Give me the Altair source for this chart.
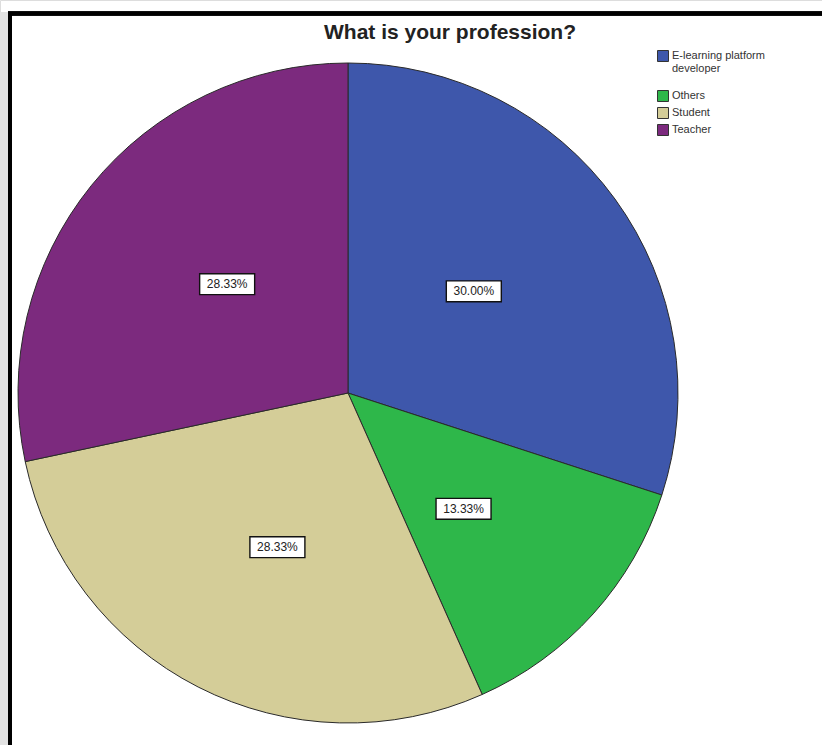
import altair as alt
import pandas as pd

categories = ["E-learning platform developer", "Others", "Student", "Teacher"]
percents = [30.00, 13.33, 28.33, 28.33]
colors = ["#3E57AB", "#2EB74A", "#D4CD98", "#7C2A7E"]

df = pd.DataFrame({
    "category": categories,
    "value": percents,
    "order": list(range(len(categories))),
})

W, H = 822, 745
CX, CY = 348, 393
R = 330

base = alt.Chart(df)

pie = base.mark_arc(outerRadius=R, stroke="#2a2a2a", strokeWidth=1).encode(
    theta=alt.Theta("value:Q", stack=True),
    color=alt.Color(
        "category:N",
        scale=alt.Scale(domain=categories, range=colors),
        sort=categories,
        legend=alt.Legend(
            title=None,
            orient="none",
            legendX=657,
            legendY=50,
            symbolType="square",
            symbolSize=121,
            symbolStrokeColor="#333333",
            symbolStrokeWidth=1,
            labelFont="Liberation Sans",
            labelFontSize=11,
            labelColor="#333333",
            labelLimit=200,
            labelOffset=3,
            rowPadding=1,
            labelExpr="datum.label == 'E-learning platform developer' ? ['E-learning platform', 'developer', ''] : datum.label",
        ),
    ),
    order=alt.Order("order:Q"),
    x=alt.value(CX),
    y=alt.value(CY),
)

lab = base.transform_window(
    cum="sum(value)", sort=[alt.SortField("order")], frame=[None, 0]
).transform_joinaggregate(
    total="sum(value)"
).transform_calculate(
    mid="(datum.cum - datum.value / 2) / datum.total * 2 * PI",
    lx="sin(datum.mid) * 0.5",
    ly="cos(datum.mid) * 0.5",
    label="format(datum.value, '.2f') + '%'",
)

xs = alt.Scale(domain=[-1, 1], range=[CX - 311, CX + 311])
ys = alt.Scale(domain=[-1, 1], range=[CY + 346, CY - 346])

boxes = lab.mark_point(
    shape="M-1,-0.38H1V0.38H-1Z",
    size=3025,
    filled=True,
    fill="white",
    stroke="#111111",
    strokeWidth=1.4,
    opacity=1,
).encode(
    x=alt.X("lx:Q", scale=xs, axis=None),
    y=alt.Y("ly:Q", scale=ys, axis=None),
)

texts = lab.mark_text(
    font="Liberation Sans", fontSize=12, color="#222222"
).encode(
    x=alt.X("lx:Q", scale=xs, axis=None),
    y=alt.Y("ly:Q", scale=ys, axis=None),
    text="label:N",
)

shadow = base.mark_rect(color="#e2e2e2").encode(
    x=alt.value(0), x2=alt.value(8), y=alt.value(12), y2=alt.value(H)
)
left_rule = base.mark_rule(color="black", strokeWidth=4).encode(
    x=alt.value(10), y=alt.value(12), y2=alt.value(H)
)
top_rule = base.mark_rule(color="black", strokeWidth=4).encode(
    x=alt.value(8), x2=alt.value(W), y=alt.value(13.5)
)

chart = alt.layer(pie, boxes, texts, shadow, left_rule, top_rule).resolve_scale(
    x="shared", y="shared"
).properties(
    width=W,
    height=H,
    padding=0,
    autosize=alt.AutoSizeParams(type="none"),
    title=alt.TitleParams(
        "What is your profession?",
        font="Liberation Sans",
        fontSize=21,
        fontWeight="bold",
        color="#222222",
        anchor="middle",
        baseline="alphabetic",
        offset=0,
        dx=39,
        dy=60,
    ),
).configure_view(stroke=None).configure(background="white")

chart.save("out.html", embed_options={"renderer": "svg", "actions": False})
